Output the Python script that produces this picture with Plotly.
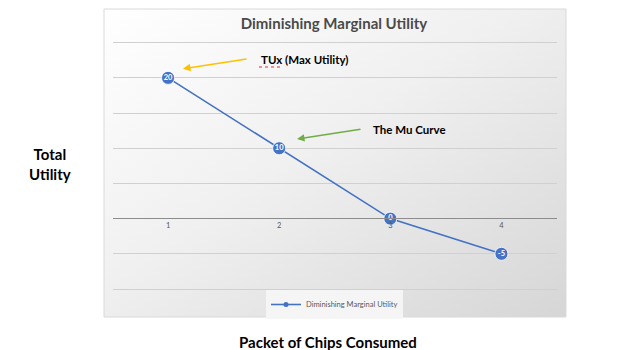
import base64
import plotly.graph_objects as go

# ---- data ----
categories = ["1", "2", "3", "4"]
utility = [20, 10, 0, -5]
series_name = "Diminishing Marginal Utility"
chart_title = "Diminishing Marginal Utility"
y_title = "Total<br>Utility"
x_title = "Packet of Chips Consumed"
note_max = "TUx (Max Utility)"
note_curve = "The Mu Curve"

W, H = 630, 350
FONT = "Lato"
BLUE = "#4472C4"


def px(x):
    return x / W


def py(y):
    return 1 - y / H


# gradient background for chart area (svg data uri)
svg = (
    '<svg xmlns="http://www.w3.org/2000/svg" width="462" height="308" preserveAspectRatio="none">'
    '<defs><linearGradient id="g" x1="0" y1="0" x2="1" y2="1">'
    '<stop offset="0" stop-color="rgb(255,255,255)"/>'
    '<stop offset="0.45" stop-color="rgb(240,240,240)"/>'
    '<stop offset="1" stop-color="rgb(214,214,214)"/>'
    '</linearGradient></defs>'
    '<rect width="462" height="308" fill="url(#g)"/></svg>'
)
svg_uri = "data:image/svg+xml;base64," + base64.b64encode(svg.encode()).decode()

fig = go.Figure()
fig.add_trace(go.Scatter(
    x=categories, y=utility, name=series_name,
    mode="lines+markers+text",
    text=[str(v) for v in utility],
    textposition="middle center",
    textfont=dict(family=FONT, size=7.5, color="white", weight="bold"),
    line=dict(color=BLUE, width=1.6),
    marker=dict(size=13, color=BLUE, line=dict(color="white", width=0.8)),
    cliponaxis=False, showlegend=False,
))
# legend entry (small symbol like the reference)
fig.add_trace(go.Scatter(
    x=[None], y=[None], name=series_name, mode="lines+markers",
    line=dict(color=BLUE, width=1.6), marker=dict(size=5, color=BLUE),
    showlegend=True,
))

# y scale: 25 at 42.7 px, -10 at 289 px
PPU = (289.0 - 42.7) / 35.0
PAD = 0.5

fig.update_layout(
    width=W, height=H,
    margin=dict(l=0, r=0, t=0, b=0),
    paper_bgcolor="white",
    plot_bgcolor="rgba(0,0,0,0)",
    font=dict(family=FONT, color="#595959"),
    title=dict(text=chart_title, x=px(334), y=py(24), xref="paper", yref="paper",
               xanchor="center", yanchor="middle",
               font=dict(family=FONT, size=15, color="#4a4a4a", weight="bold")),
    xaxis=dict(
        type="category", range=[-0.5, 3.5],
        domain=[px(112.5), px(557)],
        anchor="free", position=py(218.3),
        showgrid=False, showline=True, linecolor="#8c8c8c", linewidth=1,
        ticks="", tickfont=dict(family=FONT, size=7.5, color="#595959"),
        zeroline=False,
    ),
    yaxis=dict(
        range=[-10 - PAD, 25 + PAD], tick0=0, dtick=5,
        domain=[py(289 + PAD * PPU), py(42.7 - PAD * PPU)],
        showgrid=True, gridcolor="#d0d0d0", gridwidth=1,
        showticklabels=False, zeroline=False, showline=False, ticks="",
    ),
    showlegend=True,
    legend=dict(
        x=px(334.5), y=py(304.5), xanchor="center", yanchor="middle",
        orientation="h", bgcolor="rgba(246,246,246,0.95)",
        font=dict(family=FONT, size=7.5, color="#595959"),
        itemwidth=30, tracegroupgap=0,
    ),
    images=[dict(
        source=svg_uri, xref="paper", yref="paper",
        x=px(104), y=py(9), sizex=px(566) - px(104), sizey=py(9) - py(317),
        xanchor="left", yanchor="top", sizing="stretch", layer="below",
    )],
    shapes=[
        dict(type="rect", xref="paper", yref="paper",
             x0=px(104), x1=px(566), y0=py(317), y1=py(9),
             line=dict(color="#d9d9d9", width=1), layer="below"),
        dict(type="line", xref="paper", yref="paper",
             x0=px(259), x1=px(280), y0=py(67), y1=py(67),
             line=dict(color="#e03030", width=1, dash="dot")),
    ],
)

# annotations: callouts and axis captions
def note(text, x, y, size, color="black"):
    fig.add_annotation(text=text, xref="paper", yref="paper", x=px(x), y=py(y),
                       xanchor="center", yanchor="middle", showarrow=False,
                       font=dict(family=FONT, size=size, color=color, weight="bold"))


def arrow(x, y, dx, dy, color):
    fig.add_annotation(text="", xref="paper", yref="paper", x=px(x), y=py(y),
                       axref="pixel", ayref="pixel", ax=dx, ay=dy,
                       showarrow=True, arrowhead=2, arrowsize=1, arrowwidth=1.5,
                       arrowcolor=color)


note(note_max, 304.5, 59.5, 11.5)
arrow(183, 68.7, 65, -10, "#FFC000")
note(note_curve, 409, 129.5, 11.5)
arrow(297, 139, 65, -10, "#70AD47")
note(y_title, 50, 164, 15)
note(x_title, 328, 342, 15)

fig.write_html("out.html")
